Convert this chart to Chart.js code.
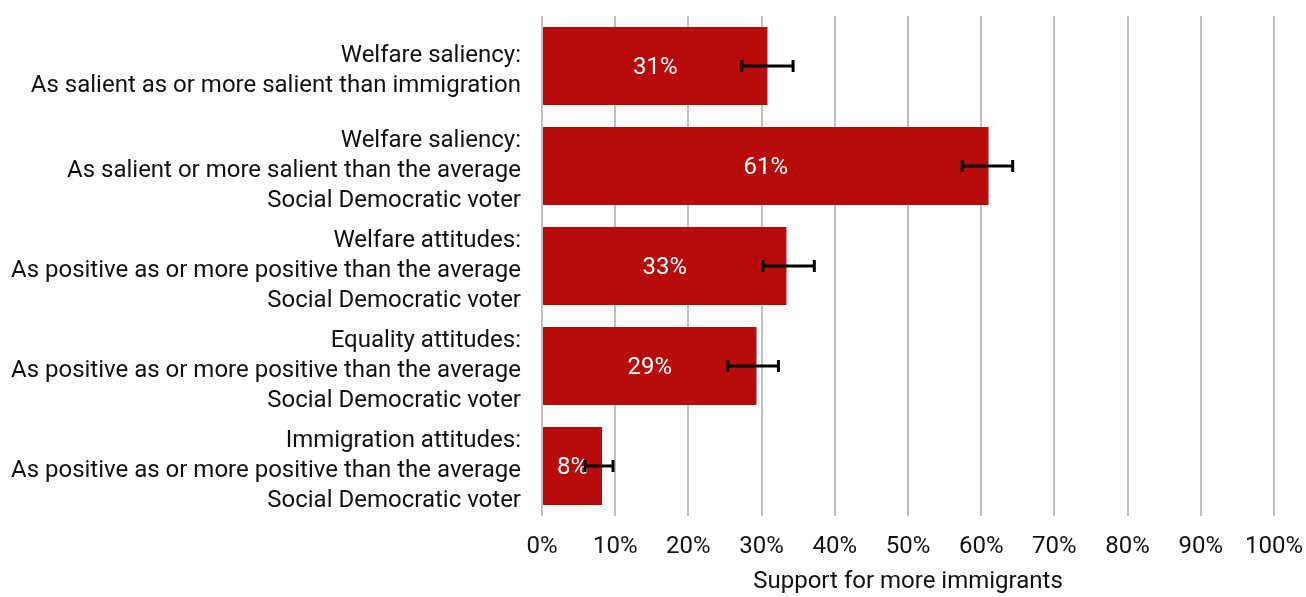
<!DOCTYPE html>
<html>
<head>
<meta charset="utf-8">
<script src="https://cdn.jsdelivr.net/npm/chart.js@4/dist/chart.umd.min.js"></script>
<style>
  html, body { margin: 0; padding: 0; background: #fff; }
  #wrap { width: 1306px; height: 597px; position: relative; }
</style>
</head>
<body>
<div id="wrap"><canvas id="barChart"></canvas></div>
<script>
const categories = [
  ['Welfare saliency:', 'As salient as or more salient than immigration'],
  ['Welfare saliency:', 'As salient or more salient than the average', 'Social Democratic voter'],
  ['Welfare attitudes:', 'As positive as or more positive than the average', 'Social Democratic voter'],
  ['Equality attitudes:', 'As positive as or more positive than the average', 'Social Democratic voter'],
  ['Immigration attitudes:', 'As positive as or more positive than the average', 'Social Democratic voter'],
];
const support = [30.8, 61.0, 33.4, 29.3, 8.2];
const errLow = [27.3, 57.4, 30.2, 25.4, 5.9];
const errHigh = [34.3, 64.3, 37.2, 32.3, 9.7];
const xTicks = [0, 10, 20, 30, 40, 50, 60, 70, 80, 90, 100];

const barColor = '#b80b0b';
const textColor = '#111111';
const font = 'Roboto';

// error bars and value labels, drawn through the chart's own scales
const barExtras = {
  id: 'barExtras',
  afterDatasetsDraw(chart) {
    const ctx = chart.ctx;
    const meta = chart.getDatasetMeta(0);
    const xs = chart.scales.x;
    ctx.save();
    meta.data.forEach((bar, i) => {
      const y = bar.y;
      // value label in the middle of the bar
      ctx.fillStyle = '#ffffff';
      ctx.font = '24px ' + font;
      ctx.textAlign = 'center';
      ctx.textBaseline = 'middle';
      ctx.fillText(Math.round(support[i]) + '%', (bar.base + bar.x) / 2, y + 2);
      // error bar
      const x1 = xs.getPixelForValue(errLow[i]);
      const x2 = xs.getPixelForValue(errHigh[i]);
      ctx.strokeStyle = '#000000';
      ctx.lineWidth = 3;
      ctx.beginPath();
      ctx.moveTo(x1, y);
      ctx.lineTo(x2, y);
      ctx.moveTo(x1, y - 6);
      ctx.lineTo(x1, y + 6);
      ctx.moveTo(x2, y - 6);
      ctx.lineTo(x2, y + 6);
      ctx.stroke();
    });
    ctx.restore();
  }
};

new Chart(document.getElementById('barChart'), {
  type: 'bar',
  data: {
    labels: categories,
    datasets: [{
      label: 'Support for more immigrants',
      data: support,
      backgroundColor: barColor,
      borderWidth: 0,
      categoryPercentage: 0.78,
      barPercentage: 1.0,
    }],
  },
  options: {
    indexAxis: 'y',
    responsive: true,
    maintainAspectRatio: false,
    animation: false,
    layout: { padding: { top: 16, right: 32, bottom: 0, left: 0 } },
    plugins: {
      legend: { display: false },
      tooltip: { enabled: false },
    },
    scales: {
      x: {
        min: 0,
        max: 100,
        afterBuildTicks: (scale) => { scale.ticks = xTicks.map(v => ({ value: v })); },
        afterFit: (scale) => {
          scale.height = 81;
          scale.paddingLeft = 0;
          scale.paddingRight = 0;
        },
        grid: { color: '#bfbfbf', lineWidth: 2, drawTicks: false },
        border: { display: false },
        ticks: {
          color: textColor,
          font: { family: font, size: 24, lineHeight: 1.2 },
          padding: 17,
          maxRotation: 0,
          callback: (v) => v + '%',
        },
        title: {
          display: true,
          text: 'Support for more immigrants',
          color: textColor,
          font: { family: font, size: 24, lineHeight: 1.2 },
          padding: { top: 6, bottom: 1 },
        },
      },
      y: {
        afterFit: (scale) => {
          scale.width = 542;
          scale.paddingTop = 0;
          scale.paddingBottom = 0;
        },
        grid: { display: false, drawTicks: false },
        border: { display: false },
        ticks: {
          autoSkip: false,
          color: textColor,
          font: { family: font, size: 24, lineHeight: 1.23 },
          padding: 21,
          labelOffset: 5,
        },
      },
    },
  },
  plugins: [barExtras],
});
</script>
</body>
</html>
